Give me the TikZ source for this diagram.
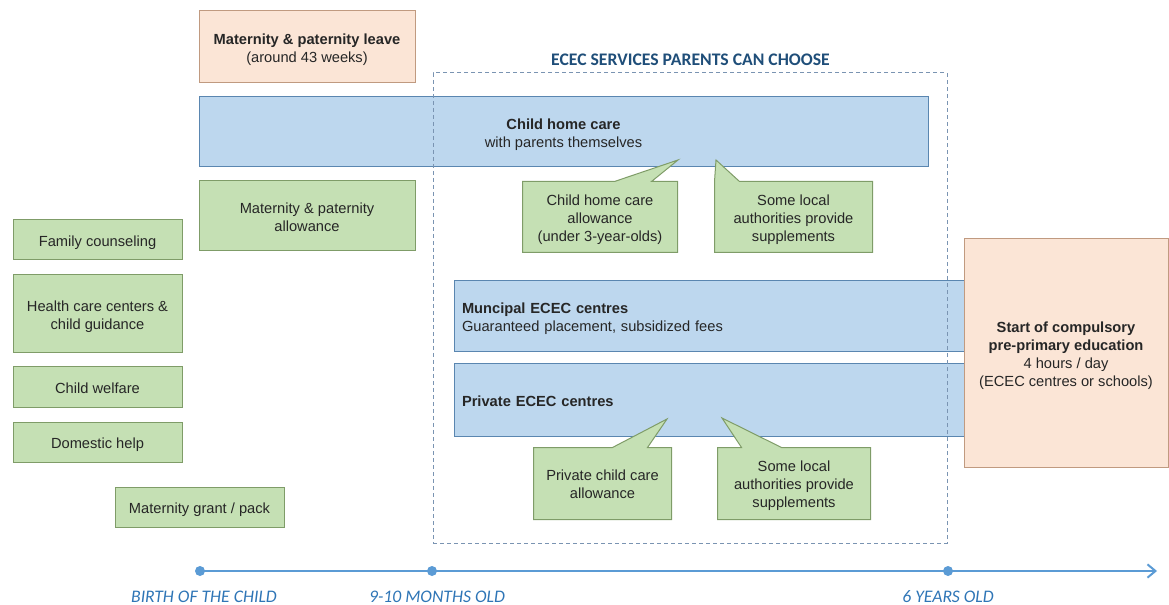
\documentclass[tikz,border=0pt]{standalone}
\usepackage{fontspec}
\setmainfont{Liberation Sans}
\newfontfamily\calib{Carlito}
\usetikzlibrary{calc,arrows.meta}
\pgfdeclarelayer{bg}
\pgfdeclarelayer{mid}
\pgfsetlayers{bg,mid,main}
\newcommand\mytopst{\rule{0pt}{1.06em}}
\newcommand\mybotst{\rule[-0.21em]{0pt}{0.21em}}
\definecolor{txt}{HTML}{262626}
\definecolor{gfill}{HTML}{C5E0B4}
\definecolor{gline}{HTML}{7F9C68}
\definecolor{bfill}{HTML}{BDD7EE}
\definecolor{bline}{HTML}{5A86B0}
\definecolor{pfill}{HTML}{FBE5D6}
\definecolor{pline}{HTML}{C09A80}
\definecolor{dash}{HTML}{7A94B2}
\definecolor{ttl}{HTML}{1F4E79}
\definecolor{tline}{HTML}{5B9BD5}
\definecolor{tlab}{HTML}{2E75B6}
\tikzset{
  base/.style={font=\fontsize{11}{13.5}\selectfont, text=txt, align=center, inner sep=0pt, line width=0.75pt,
    execute at begin node=\mytopst, execute at end node=\mybotst},
  greenbox/.style={base, fill=gfill, draw=gline},
  bluebar/.style={base, fill=bfill, draw=bline},
  peachbox/.style={base, fill=pfill, draw=pline},
  callouttext/.style={base},
  calloutshape/.style={fill=gfill, draw=gline, line width=0.75pt, line join=miter},
  tdot/.style={circle, fill=tline, inner sep=0pt, minimum size=7.5pt},
  tlabel/.style={font=\calib\itshape\fontsize{13.25}{15}\selectfont, text=tlab, inner sep=0pt, anchor=base, text depth=0pt},
}
\begin{document}
\begin{tikzpicture}[x=0.75pt,y=-0.75pt]
\useasboundingbox (0,0) rectangle (1169,605);

% background layer: bars and boxes
\begin{pgfonlayer}{bg}
\node[peachbox, minimum width=162pt, minimum height=54pt] (leave) at (307,47)
  {\mytopst\textbf{Maternity \& paternity leave}\\(around 43 weeks)};
\node[bluebar, minimum width=546.75pt, minimum height=52.5pt] (home) at (563.5,132)
  {\mytopst\textbf{Child home care}\\with parents themselves};
\node[greenbox, minimum width=162pt, minimum height=52.5pt] (allow) at (307,216)
  {\mytopst Maternity \& paternity\\allowance};
\node[greenbox, minimum width=126.75pt, minimum height=30pt] (family) at (97.5,240) {Family counseling};
\node[greenbox, minimum width=126.75pt, minimum height=58.5pt] (health) at (97.5,314) {\mytopst Health care centers \&\\child guidance};
\node[greenbox, minimum width=126.75pt, minimum height=30pt] (welfare) at (97.5,387) {Child welfare};
\node[greenbox, minimum width=126.75pt, minimum height=30pt] (domestic) at (97.5,442) {Domestic help};
\node[greenbox, minimum width=126.75pt, minimum height=30pt] (grant) at (199.5,507) {Maternity grant / pack};
\node[bluebar, minimum width=383.25pt, minimum height=53.25pt, align=left, text width=371.25pt, inner xsep=6pt] (muni) at (709.5,316)
  {\textbf{Muncipal ECEC centres}\\Guaranteed placement, subsidized fees};
\node[bluebar, minimum width=383.25pt, minimum height=54pt, align=left, text width=371.25pt, inner xsep=6pt] (priv) at (709.5,400)
  {\textbf{Private ECEC centres}};
\node[peachbox, minimum width=153pt, minimum height=171pt] (start) at (1066,353)
  {\mytopst\textbf{Start of compulsory}\\\textbf{pre-primary education}\\4 hours / day\\(ECEC centres or schools)};
\end{pgfonlayer}

% callouts: text on main layer, outline on mid layer
\node[callouttext, minimum width=115.5pt, minimum height=52.5pt] (c1) at (600,217)
  {\mytopst Child home care\\allowance\\(under 3-year-olds)};
\node[callouttext, minimum width=117.75pt, minimum height=52.5pt] (c2) at (793.5,217)
  {\mytopst Some local\\authorities provide\\supplements};
\node[callouttext, minimum width=102.75pt, minimum height=53.25pt] (c3) at (602.5,483.5)
  {\mytopst Private child care\\allowance};
\node[callouttext, minimum width=114pt, minimum height=53.25pt] (c4) at (794,483.5)
  {\mytopst Some local\\authorities provide\\supplements};
\coordinate (t1) at (678,160);
\coordinate (t2) at (716,160);
\coordinate (t3) at (667,419);
\coordinate (t4) at (722,418);
\begin{pgfonlayer}{mid}
\draw[calloutshape] (c1.north west) -- ($(c1.north west)+(92,0)$) -- (t1) -- ($(c1.north west)+(129,0)$)
  -- (c1.north east) -- (c1.south east) -- (c1.south west) -- cycle;
\draw[calloutshape] (c2.north west) -- (t2) -- ($(c2.north west)+(25,0)$) -- ($(c2.north west)+(65,0)$)
  -- (c2.north east) -- (c2.south east) -- (c2.south west) -- cycle;
\draw[calloutshape] (c3.north west) -- ($(c3.north west)+(79,0)$) -- (t3) -- ($(c3.north west)+(114,0)$)
  -- (c3.north east) -- (c3.south east) -- (c3.south west) -- cycle;
\draw[calloutshape] (c4.north west) -- ($(c4.north west)+(24,0)$) -- (t4) -- ($(c4.north west)+(64,0)$)
  -- (c4.north east) -- (c4.south east) -- (c4.south west) -- cycle;
\end{pgfonlayer}

% dashed frame and title
\node[draw=dash, dashed, dash pattern=on 3pt off 2.25pt, line width=0.75pt, minimum width=385.5pt, minimum height=352.5pt, inner sep=0pt] (frame) at (690,308) {};
\node[font=\calib\bfseries\fontsize{13.25}{15}\selectfont, text=ttl, inner sep=0pt] (title) at (690.5,59.5) {ECEC SERVICES PARENTS CAN CHOOSE};

% timeline
\node[tdot] (d0) at (200,571) {};
\node[tdot] (d1) at (432,571) {};
\node[tdot] (d2) at (948,571) {};
\coordinate (tend) at (1157,571);
\draw[tline, line width=2pt, -{Straight Barb[length=6pt,width=10pt,line width=1.5pt]}] (d0.center) -- (tend);
\node[tlabel] (l0) at (204,602.5) {BIRTH OF THE CHILD};
\node[tlabel] (l1) at (437,602.5) {9-10 MONTHS OLD};
\node[tlabel] (l2) at (948,602.5) {6 YEARS OLD};
\end{tikzpicture}
\end{document}
